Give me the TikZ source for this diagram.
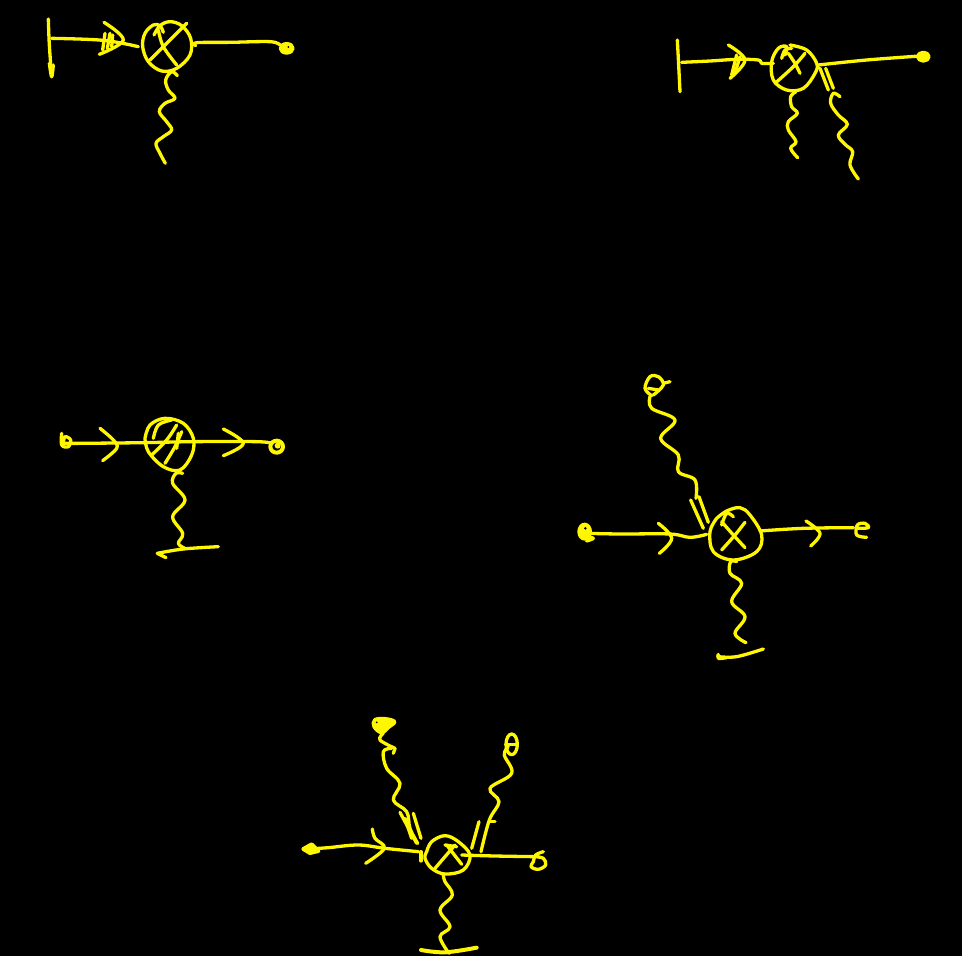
\documentclass[tikz,border=0pt]{standalone}
\tikzset{
  ink/.style={draw=inkyellow,line width=3.3pt,line cap=round,line join=round},
  blob/.style={ink,line width=4pt},
  zoomed/.style={shift={(#1)},scale=1/3}
}
\definecolor{inkyellow}{RGB}{255,247,0}
\newcommand{\hs}[2][ink]{\draw[#1] plot[smooth,tension=.6] coordinates {#2};}
\begin{document}
\begin{tikzpicture}[x=1pt,y=-1pt]
\useasboundingbox (0,0) rectangle (962,956);
\fill[black] (0,0) rectangle (962,956);
% group 1
\begin{scope}[zoomed={30,5}]
\hs{(55,42)(58,120)(65,215)}
\hs{(58,175)(65,215)(70,180)}
\hs{(65,100)(220,106)(325,125)}
\hs{(222,52)(280,105)(208,148)}
\hs{(225,85)(218,135)}\hs{(240,85)(232,130)}\hs{(248,90)(245,125)}
\hs{(400,82)(390,62)(370,60)(345,85)(338,125)(355,170)(395,198)(440,190)(480,150)(482,100)(455,62)(420,50)(390,62)(372,90)}
\hs{(360,165)(410,115)(470,55)}
\hs{(385,75)(400,125)(440,180)}
\hs{(497,122)(500,113)(600,112)(720,110)(750,120)}
\draw[blob,fill=inkyellow] (770,130) ellipse [x radius=18,y radius=13];
\fill[black] (775,126) circle [radius=3];
\hs{(442,212)(425,200)(407,225)(415,255)(435,280)(405,295)(388,320)(410,350)(425,375)(400,395)(378,415)(390,445)(406,475)}
\end{scope}
% group 2
\begin{scope}[zoomed={660,25}]
\hs{(52,45)(56,120)(60,200)}
\hs{(65,112)(150,108)(230,103)(295,105)(305,115)(340,115)}
\hs{(205,60)(255,105)(210,160)}
\hs{(230,90)(215,150)}\hs{(240,95)(225,145)}
\hs{(375,90)(380,65)(355,70)(335,110)(340,165)(380,195)(430,190)(465,145)(470,115)(440,75)(390,60)}
\hs{(345,175)(400,125)(435,85)}
\hs{(385,85)(405,115)(420,145)}
\hs{(365,100)(375,75)(395,70)}
\hs{(475,120)(620,105)(780,93)}
\draw[blob,fill=inkyellow] (790,95) ellipse [x radius=16,y radius=12];
\hs{(480,130)(505,195)}\hs{(497,130)(520,190)}
\hs{(408,200)(392,215)(395,245)(412,265)(385,290)(385,315)(408,350)(392,370)(413,398)}
\hs{(540,215)(520,205)(512,235)(535,270)(562,298)(535,330)(555,358)(578,380)(570,420)(595,462)}
\end{scope}
% group 3
\begin{scope}[zoomed={50,405}]
\hs{(35,85)(35,120)(55,125)(62,105)(45,95)(40,115)}
\hs{(40,115)(90,115)(280,113)(430,110)(620,110)(665,115)}
\draw[blob] (680,125) ellipse [x radius=19,y radius=18];
\fill[inkyellow] (683,122) circle [radius=9];
\hs{(150,70)(190,105)(200,130)(158,167)}
\hs{(520,72)(580,115)(520,152)}
\hs{(285,100)(300,60)(345,40)(400,55)(430,100)(425,150)(390,195)(340,185)(295,140)(285,100)}
\hs{(310,100)(325,60)(365,45)}
\hs{(305,150)(350,105)(380,60)}
\hs{(345,175)(375,125)(395,80)}
\hs{(385,85)(380,130)}
\hs{(398,205)(378,205)(368,235)(405,285)(368,335)(398,385)(385,415)(405,430)}
\hs{(322,445)(400,432)(505,425)}
\hs{(322,445)(348,458)}
\end{scope}
% group 4
\begin{scope}[zoomed={570,365}]
\hs{(245,92)(225,70)(240,35)(265,35)(280,60)(250,90)}
\hs{(235,70)(265,75)}\hs{(280,55)(300,50)}
\hs{(240,95)(245,130)(315,165)(272,220)(325,270)(325,320)(375,345)(378,400)}
\hs{(362,405)(400,490)}\hs{(387,395)(415,472)}
\hs{(50,505)(150,507)(300,507)(360,517)(410,508)}
\draw[blob,fill=inkyellow] (44,500) ellipse [x radius=16,y radius=21];
\fill[black] (46,490) circle [radius=4];
\hs{(50,515)(70,520)(50,528)}
\hs{(265,475)(305,520)(268,565)}
\hs{(440,460)(420,500)(430,560)(490,585)(560,560)(575,510)(540,450)(510,428)(470,438)(440,460)}
\hs{(455,555)(495,510)(525,472)}
\hs{(455,470)(490,510)(525,548)}
\hs{(455,480)(470,445)(490,455)}
\hs{(570,498)(700,490)(850,488)}
\hs{(708,468)(750,505)(722,543)}
\hs{(860,490)(895,488)(885,475)(862,480)(860,510)(890,517)}
\hs{(500,590)(482,590)(480,625)(515,655)(485,710)(525,755)(495,805)(528,833)}
\hs{(445,875)(500,875)(580,852)}
\hs{(445,868)(445,880)(470,878)}
\end{scope}
% group 5
\begin{scope}[zoomed={295,705}]
\draw[blob,fill=inkyellow] plot[smooth cycle,tension=.6] coordinates {(240,45)(238,65)(260,82)(282,65)(298,50)(270,42)};
\fill[black] (245,52) circle [radius=3];
\hs{(265,85)(255,105)(300,130)}
\hs{(300,130)(295,145)}
\hs{(290,130)(265,140)(275,190)(315,235)(295,285)(335,320)(345,370)(368,415)}
\hs{(315,322)(365,415)}\hs{(330,340)(350,400)}\hs{(355,325)(378,400)}
\draw[ink] (650,118) ellipse [x radius=17,y radius=31];
\hs{(632,118)(665,118)}
\hs{(640,125)(628,150)(650,205)(585,250)(612,290)(583,345)(558,440)}
\hs{(583,350)(600,350)}
\hs{(552,350)(530,430)}
\hs{(40,432)(100,428)(190,420)(270,430)(370,440)}
\draw[blob,fill=inkyellow] (25,432) -- (50,418) -- (70,438) -- (45,444) -- cycle;
\hs{(232,372)(240,400)(268,430)(212,475)}
\hs{(378,440)(378,468)}
\hs{(395,440)(410,410)(450,392)(490,410)(525,450)(505,495)(450,507)(410,490)(390,460)(395,440)}
\hs{(420,490)(480,420)}
\hs{(455,420)(500,478)}
\hs{(450,420)(485,425)}
\hs{(500,450)(600,453)(720,455)}
\hs{(745,440)(722,450)(715,470)(708,485)(730,493)(752,480)(745,460)(720,455)}
\hs{(445,510)(450,530)(472,570)(435,615)(465,665)(435,695)(462,745)}
\hs[blob]{(378,735)(450,742)(545,728)}
\end{scope}
\end{tikzpicture}
\end{document}
